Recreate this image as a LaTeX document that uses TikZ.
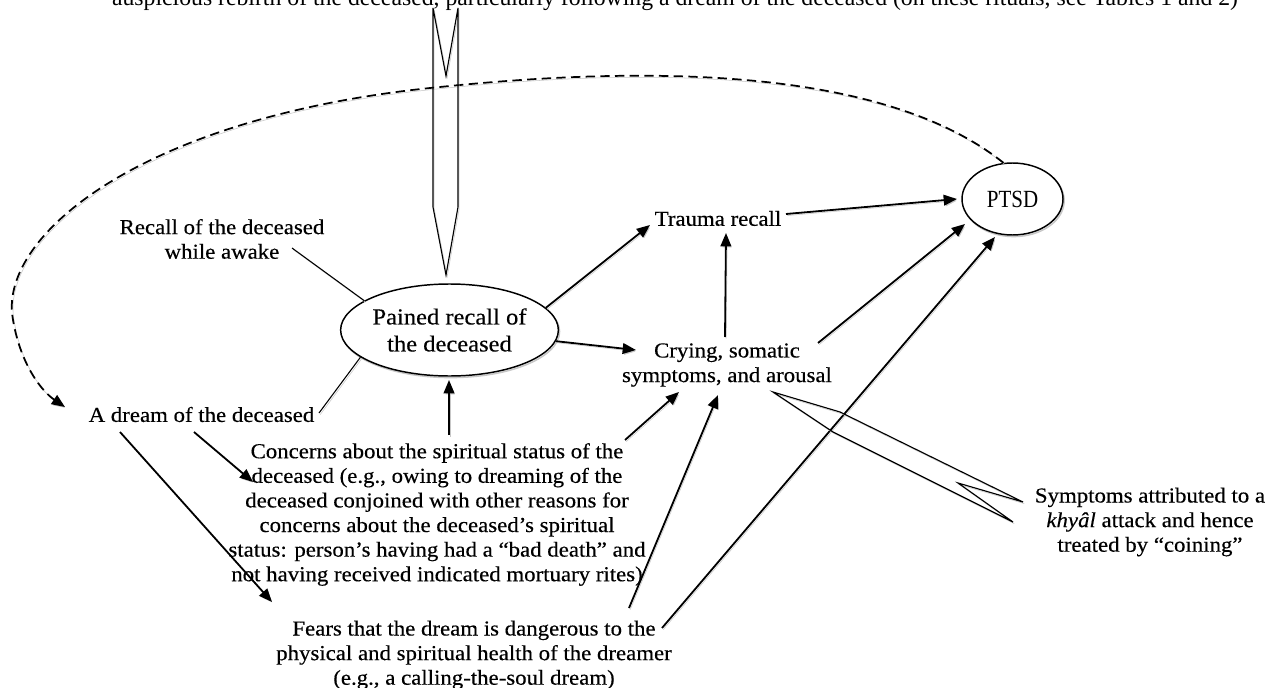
\documentclass[tikz,border=0pt]{standalone}
\usepackage{fontspec}
\setmainfont{Liberation Serif}
\newfontfamily\camf[FakeStretch=1.07,FakeBold=0.35]{Liberation Serif}
\newfontfamily\condf[FakeStretch=0.85]{Liberation Serif}
\usetikzlibrary{shapes.geometric,arrows.meta,calc}
\begin{document}
\begin{tikzpicture}[x=0.75pt,y=-0.75pt,
  shd/.style={preaction={draw=black!22, transform canvas={shift={(0.9pt,-1.2pt)}}}},
  txt/.style={font=\camf\fontsize{16}{18.45}\selectfont, align=center, inner sep=0pt},
  ell/.style={ellipse, draw, line width=1.1pt, inner sep=0pt, fill=white, shd},
  tip/.style={-{Triangle[length=10pt,width=8pt]}},
  arr/.style={draw, line width=1.35pt, tip, shd},
  thin/.style={draw, line width=0.8pt, shd},
  blk/.style={draw, line width=0.85pt, line join=miter, shd}
]
\useasboundingbox (0,0) rectangle (1280,688);
\fill[white] (0,0) rectangle (1280,688);

% nodes
\node[font=\fontsize{17.8}{20}\selectfont, inner sep=0pt, anchor=base] (top) at (675,6)
  {auspicious rebirth of the deceased, particularly following a dream of the deceased (on these rituals, see Tables 1 and 2)};
\node[ell, minimum width=162.75pt, minimum height=69pt, align=center,
      font=\camf\fontsize{17.2}{20.25}\selectfont] (pained) at (449.5,330) {Pained recall of\\the deceased};
\node[ell, minimum width=75.75pt, minimum height=54pt,
      font=\condf\fontsize{18.5}{20}\selectfont] (ptsd) at (1012.5,199) {PTSD};
\node[txt] (recall) at (222,239) {Recall of the deceased\\while awake};
\node[txt] (dream) at (201.5,414.5) {A dream of the deceased};
\node[txt] (trauma) at (718,218.5) {Trauma recall};
\node[txt] (crying) at (727,365) {Crying, somatic\\symptoms, and arousal};
\node[txt] (concerns) at (437,514.5) {Concerns about the spiritual status of the\\deceased (e.g., owing to dreaming of the\\deceased conjoined with other reasons for\\concerns about the deceased’s spiritual\\status: person’s having had a “bad death” and\\not having received indicated mortuary rites)};
\node[txt] (fears) at (474,655) {Fears that the dream is dangerous to the\\physical and spiritual health of the dreamer\\(e.g., a calling-the-soul dream)};
\node[txt] (symptoms) at (1150,522) {Symptoms attributed to a\\\textit{khyâl} attack and hence\\treated by “coining”};

% plain lines
\draw[thin] ([shift={(70,9)}]recall.center) -- (pained.161);
\draw[thin] ([shift={(117.5,-1.5)}]dream.center) -- (pained.197);

% dashed feedback
\draw[line width=1.3pt, dash pattern=on 7pt off 4pt, tip, shd]
  (ptsd.104) .. controls (900,80) and (700,60) .. (440,87)
  .. controls (150,115) and (5,230) .. (12,313)
  .. controls (18,360) and (40,390) .. ([shift={(-136.5,-7.5)}]dream.center);

% arrows
\draw[arr] (pained.13) -- ([shift={(-68,6.5)}]trauma.center);
\draw[arr] (pained.-6) -- ([shift={(-91,-15)}]crying.center);
\draw[arr] ([shift={(-2,-28)}]crying.center) -- ([shift={(8,14.5)}]trauma.center);
\draw[arr] ([shift={(68,-4.5)}]trauma.center) -- ([shift={(-55.5,0)}]ptsd.center);
\draw[arr] ([shift={(91,-22)}]crying.center) -- ([shift={(-47.5,25)}]ptsd.center);
\draw[arr] ([shift={(188,-27)}]fears.center) -- ([shift={(-17.5,38)}]ptsd.center);
\draw[arr] ([shift={(155,-47)}]fears.center) -- ([shift={(-9,30)}]crying.center);
\draw[arr] ([shift={(188,-74.5)}]concerns.center) -- ([shift={(-48,27)}]crying.center);
\draw[arr] ([shift={(12,-79.5)}]concerns.center) -- ([shift={(-0.5,50)}]pained.center);
\draw[arr] ([shift={(-7.5,17.5)}]dream.center) -- ([shift={(-184,-32.5)}]concerns.center);
\draw[arr] ([shift={(-81.5,17.5)}]dream.center) -- ([shift={(-202,-53)}]fears.center);

% block arrows
\draw[blk] (433,8) -- (433,207) -- (446,275) -- (458,207) -- (458,8) -- (446,76) -- cycle;
\draw[blk] (773,392) -- (840,412) -- (1023,502) -- (958,483) -- (1013,522) -- (833,432) -- cycle;
\end{tikzpicture}
\end{document}
